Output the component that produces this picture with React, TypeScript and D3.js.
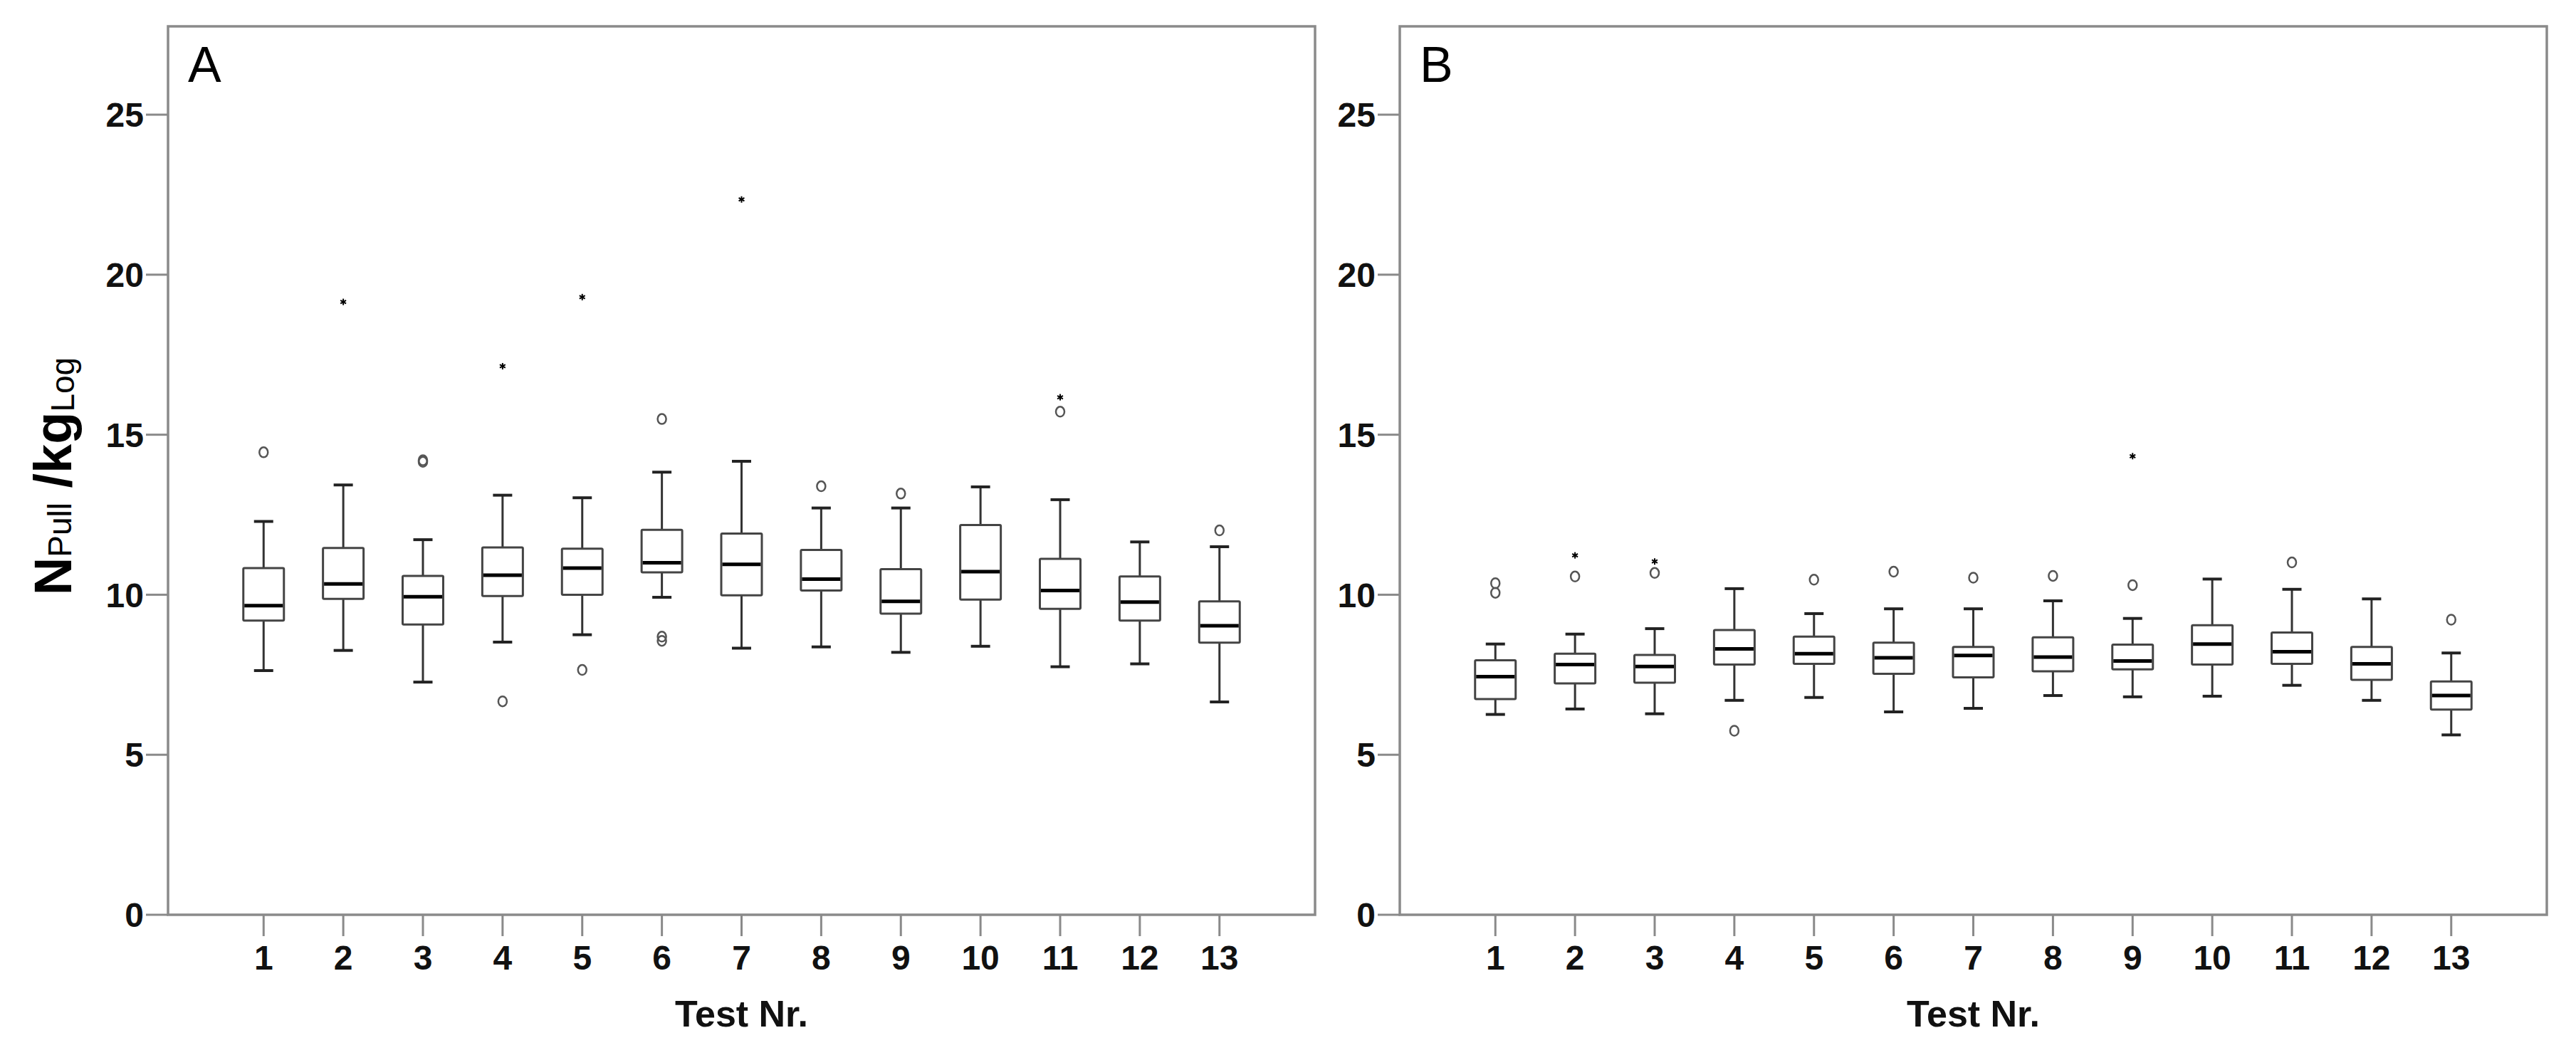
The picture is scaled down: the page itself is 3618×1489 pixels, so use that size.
import React from 'react';
import * as d3 from 'd3';

const tests = [1, 2, 3, 4, 5, 6, 7, 8, 9, 10, 11, 12, 13];
const yTicks = [0, 5, 10, 15, 20, 25];
const xTitle = 'Test Nr.';

// Panel A
const aLow = [7.63, 8.26, 7.27, 8.52, 8.75, 9.92, 8.33, 8.37, 8.2, 8.39, 7.75, 7.84, 6.65];
const aQ1 = [9.19, 9.87, 9.07, 9.96, 10.0, 10.7, 9.98, 10.13, 9.41, 9.85, 9.56, 9.19, 8.5];
const aMed = [9.66, 10.34, 9.94, 10.61, 10.83, 11.0, 10.95, 10.49, 9.79, 10.72, 10.13, 9.77, 9.03];
const aQ3 = [10.83, 11.46, 10.59, 11.48, 11.44, 12.03, 11.91, 11.4, 10.8, 12.18, 11.12, 10.57, 9.79];
const aHigh = [12.29, 13.43, 11.72, 13.11, 13.03, 13.83, 14.17, 12.71, 12.71, 13.37, 12.97, 11.65, 11.5];
const aCircles: [number, number][] = [[1, 14.45], [3, 14.2], [3, 14.15], [4, 6.67], [5, 7.65], [6, 15.49], [6, 8.69], [6, 8.56], [8, 13.39], [9, 13.16], [11, 15.72], [13, 12.01]];
const aStars: [number, number][] = [[2, 19.15], [4, 17.14], [5, 19.3], [7, 22.35], [11, 16.17]];

// Panel B
const bLow = [6.26, 6.43, 6.28, 6.7, 6.79, 6.34, 6.45, 6.85, 6.81, 6.83, 7.17, 6.7, 5.62];
const bQ1 = [6.74, 7.23, 7.25, 7.82, 7.84, 7.53, 7.42, 7.61, 7.67, 7.82, 7.84, 7.34, 6.41];
const bMed = [7.44, 7.82, 7.76, 8.31, 8.16, 8.03, 8.1, 8.05, 7.93, 8.46, 8.22, 7.84, 6.85];
const bQ3 = [7.95, 8.16, 8.12, 8.9, 8.69, 8.5, 8.37, 8.67, 8.44, 9.05, 8.82, 8.37, 7.29];
const bHigh = [8.46, 8.77, 8.94, 10.19, 9.41, 9.56, 9.56, 9.81, 9.26, 10.49, 10.17, 9.87, 8.18];
const bCircles: [number, number][] = [[1, 10.36], [1, 10.06], [2, 10.57], [3, 10.68], [4, 5.75], [5, 10.47], [6, 10.72], [7, 10.53], [8, 10.59], [9, 10.3], [11, 11.01], [13, 9.22]];
const bStars: [number, number][] = [[2, 11.23], [3, 11.04], [9, 14.33]];

const FONT = "'Liberation Sans', Arial, sans-serif";
const FRAME = '#8a8a8a';
const TOP = 37;
const BOTTOM = 1285;
const PW = 1611;

function Panel({ left, letter, low, q1, med, q3, high, circles, stars }: any) {
  const x = d3.scaleLinear().domain([-0.2, 14.2]).range([left, left + PW]);
  const y = d3.scaleLinear().domain([0, 27.76]).range([BOTTOM, TOP]);
  const bw = 57;
  const cw = 27;
  return (
    <g>
      {/* y ticks */}
      {yTicks.map((t) => (
        <g key={t}>
          <line x1={left - 31} x2={left} y1={y(t)} y2={y(t)} stroke={FRAME} strokeWidth={3} />
          <text x={left - 34} y={y(t)} dy="0.36em" textAnchor="end" fontFamily={FONT} fontWeight="bold" fontSize={48} fill="#111">
            {t}
          </text>
        </g>
      ))}
      {/* x ticks */}
      {tests.map((t) => (
        <g key={t}>
          <line x1={x(t)} x2={x(t)} y1={BOTTOM} y2={BOTTOM + 30} stroke={FRAME} strokeWidth={3} />
          <text x={x(t)} y={1362} textAnchor="middle" fontFamily={FONT} fontWeight="bold" fontSize={48} fill="#111">
            {t}
          </text>
        </g>
      ))}
      <text x={left + PW / 2} y={1442} textAnchor="middle" fontFamily={FONT} fontWeight="bold" fontSize={52} fill="#111">
        {xTitle}
      </text>
      {/* boxes */}
      {tests.map((t, i) => {
        const cx = x(t);
        return (
          <g key={t}>
            <line x1={cx} x2={cx} y1={y(high[i])} y2={y(q3[i])} stroke="#333" strokeWidth={3} />
            <line x1={cx} x2={cx} y1={y(q1[i])} y2={y(low[i])} stroke="#333" strokeWidth={3} />
            <line x1={cx - cw / 2} x2={cx + cw / 2} y1={y(high[i])} y2={y(high[i])} stroke="#222" strokeWidth={4} />
            <line x1={cx - cw / 2} x2={cx + cw / 2} y1={y(low[i])} y2={y(low[i])} stroke="#222" strokeWidth={4} />
            <rect x={cx - bw / 2} y={y(q3[i])} width={bw} height={y(q1[i]) - y(q3[i])} fill="white" stroke="#444" strokeWidth={3} rx={1.5} />
            <line x1={cx - bw / 2 + 1.5} x2={cx + bw / 2 - 1.5} y1={y(med[i])} y2={y(med[i])} stroke="#000" strokeWidth={5} />
          </g>
        );
      })}
      {circles.map(([t, v]: [number, number], i: number) => (
        <ellipse key={'c' + i} cx={x(t)} cy={y(v)} rx={6} ry={7} fill="none" stroke="#555" strokeWidth={2.5} />
      ))}
      {stars.map(([t, v]: [number, number], i: number) => {
        const cx = x(t);
        const cy = y(v);
        const r = 4.5;
        return (
          <g key={'s' + i} stroke="#000" strokeWidth={2}>
            <line x1={cx} x2={cx} y1={cy - r} y2={cy + r} />
            <line x1={cx - r * 0.87} x2={cx + r * 0.87} y1={cy - r * 0.5} y2={cy + r * 0.5} />
            <line x1={cx - r * 0.87} x2={cx + r * 0.87} y1={cy + r * 0.5} y2={cy - r * 0.5} />
          </g>
        );
      })}
      {/* frame */}
      <rect x={left} y={TOP} width={PW} height={BOTTOM - TOP} fill="none" stroke={FRAME} strokeWidth={3.5} />
      <text x={left + 28} y={115} fontFamily={FONT} fontSize={70} fill="#000">
        {letter}
      </text>
    </g>
  );
}

export default function App() {
  return (
    <svg width={3618} height={1489} style={{ position: 'absolute', left: 0, top: 0, background: 'white' }}>
      <rect x={0} y={0} width={3618} height={1489} fill="white" />
      <Panel left={236} letter="A" low={aLow} q1={aQ1} med={aMed} q3={aQ3} high={aHigh} circles={aCircles} stars={aStars} />
      <Panel left={1966} letter="B" low={bLow} q1={bQ1} med={bMed} q3={bQ3} high={bHigh} circles={bCircles} stars={bStars} />
      <text transform="translate(100,669) rotate(-90)" textAnchor="middle" fontFamily={FONT} fill="#000">
        <tspan fontSize={74} fontWeight="bold">N</tspan>
        <tspan fontSize={46}>Pull</tspan>
        <tspan fontSize={74} fontWeight="bold"> /kg</tspan>
        <tspan fontSize={46} dy={4}>Log</tspan>
      </text>
    </svg>
  );
}
